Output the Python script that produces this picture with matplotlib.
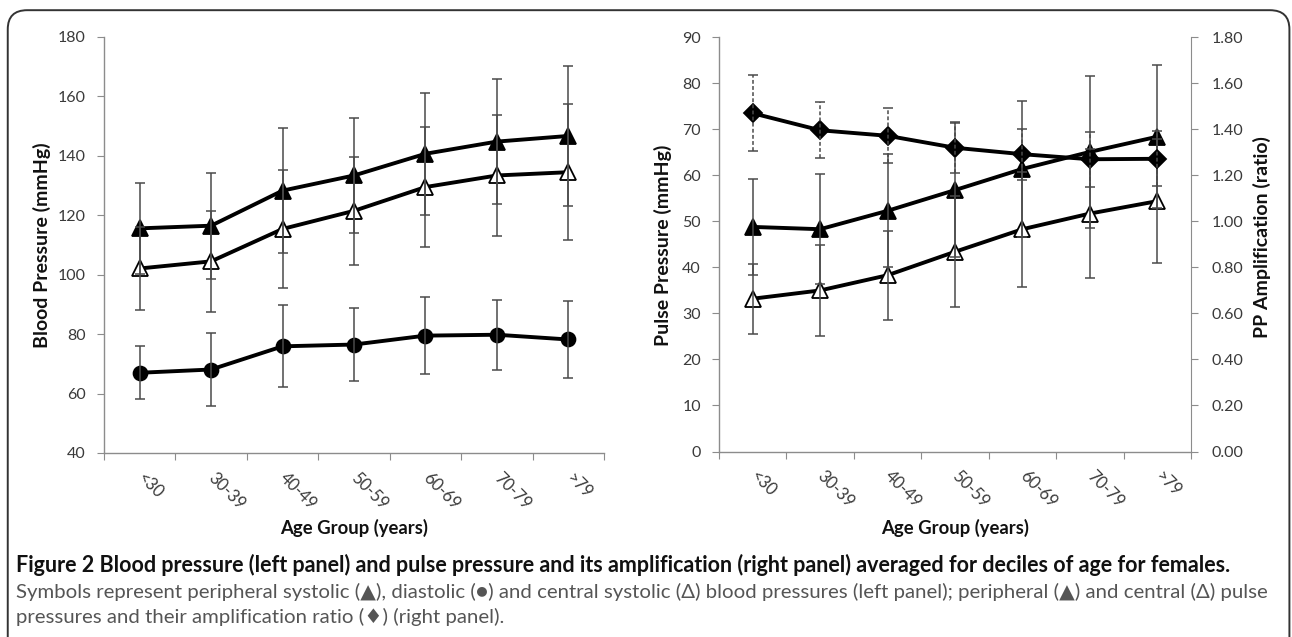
import numpy as np
import matplotlib.pyplot as plt
from matplotlib.patches import FancyBboxPatch

ages = ['<30', '30-39', '40-49', '50-59', '60-69', '70-79', '>79']

# left panel, blood pressures (mmHg), mean and SD
periph_sys = [115.6, 116.5, 128.3, 133.4, 140.7, 144.8, 146.7]
periph_sys_sd = [15.3, 17.8, 21.0, 19.3, 20.5, 21.0, 23.6]
diastolic = [67.0, 68.1, 75.9, 76.5, 79.5, 79.8, 78.2]
diastolic_sd = [8.9, 12.3, 13.8, 12.2, 12.9, 11.7, 12.8]
central_sys = [102.1, 104.5, 115.4, 121.5, 129.5, 133.4, 134.5]
central_sys_sd = [13.9, 17.0, 20.0, 18.2, 20.2, 20.3, 22.8]

# right panel, pulse pressures (mmHg) and amplification ratio
periph_pp = [48.8, 48.3, 52.3, 56.8, 61.4, 65.1, 68.4]
periph_pp_sd = [10.4, 12.0, 12.3, 14.6, 14.8, 16.5, 15.5]
central_pp = [33.2, 35.0, 38.3, 43.4, 48.3, 51.7, 54.4]
central_pp_sd = [7.6, 9.8, 9.7, 12.1, 12.5, 14.0, 13.5]
pp_amp = [1.47, 1.396, 1.372, 1.32, 1.292, 1.27, 1.272]
pp_amp_sd = [0.164, 0.122, 0.12, 0.11, 0.11, 0.12, 0.12]

caption_title = ('Figure 2 Blood pressure (left panel) and pulse pressure and its amplification '
                 '(right panel) averaged for deciles of age for females.')
caption_lines = ['Symbols represent peripheral systolic (\u25b2), diastolic (\u25cf) and central '
                 'systolic (\u0394) blood pressures (left panel); peripheral (\u25b2) and central '
                 '(\u0394) pulse',
                 'pressures and their amplification ratio (\u2666) (right panel).']

W, H = 1292, 637
FONT = ['Lato', 'DejaVu Sans']
AXIS_GRAY = '#8c8c8c'
TEXT_GRAY = '#3a3a3a'
ERR_GRAY = '#4a4a4a'

fig = plt.figure(figsize=(W / 100, H / 100), dpi=100)


def px(xp, yp):
    # pixel position (from top-left) -> figure fraction
    return xp / W, 1 - yp / H


# rounded frame around the figure
frame = FancyBboxPatch((0.006, -0.05), 0.992, 1.034,
                       boxstyle='round,pad=0,rounding_size=0.015',
                       transform=fig.transFigure, fill=False,
                       edgecolor='#333333', linewidth=1.4, mutation_aspect=2)
fig.patches.append(frame)

x = np.arange(len(ages))


def style_axis(ax):
    for side in ['top', 'right']:
        ax.spines[side].set_visible(False)
    for side in ['left', 'bottom']:
        ax.spines[side].set_color(AXIS_GRAY)
        ax.spines[side].set_linewidth(1.0)
    ax.set_xlim(-0.5, len(ages) - 0.5)
    # category boundaries carry the tick marks, labels sit in between
    ax.set_xticks(np.arange(-0.5, len(ages), 1.0))
    ax.set_xticklabels([])
    ax.set_xticks(x, ages, minor=True)
    ax.tick_params(axis='x', which='major', length=5, color=AXIS_GRAY, direction='out')
    ax.tick_params(axis='x', which='minor', length=0, pad=16)
    for lbl in ax.get_xticklabels(minor=True):
        lbl.set_rotation(-45)
        lbl.set_ha('left')
        lbl.set_va('center')
        lbl.set_rotation_mode('anchor')
        lbl.set_fontfamily(FONT)
        lbl.set_fontsize(12)
        lbl.set_color(TEXT_GRAY)
    ax.tick_params(axis='y', length=5, color=AXIS_GRAY, direction='out', pad=8,
                   labelsize=11.5, labelcolor=TEXT_GRAY)
    for lbl in ax.get_yticklabels():
        lbl.set_fontfamily(FONT)


def draw_series(ax, y, err, marker, face, ms, ls='-'):
    ax.plot(x, y, color='black', linewidth=2.8, marker=marker, markersize=ms,
            markerfacecolor=face, markeredgecolor='black', markeredgewidth=1.3,
            zorder=3)
    eb = ax.errorbar(x, y, yerr=err, fmt='none', ecolor=ERR_GRAY, elinewidth=1.1,
                     capsize=3.5, capthick=1.1, zorder=4)
    if ls != '-':
        eb[2][0].set_linestyle(ls)


def label(xp, yp, text, rot=0):
    fig.text(*px(xp, yp), text, rotation=rot, ha='center', va='center',
             family=FONT, fontsize=14 if rot else 13.3, fontweight='bold',
             color='#111111')


# left panel
ax1 = fig.add_axes([104 / W, 1 - 453 / H, 500 / W, 416 / H])
draw_series(ax1, periph_sys, periph_sys_sd, '^', 'black', 11)
draw_series(ax1, central_sys, central_sys_sd, '^', 'white', 11)
draw_series(ax1, diastolic, diastolic_sd, 'o', 'black', 10)
ax1.set_ylim(40, 180)
ax1.set_yticks(np.arange(40, 181, 20))
style_axis(ax1)
label(42, 245, 'Blood Pressure (mmHg)', 90)
label(354, 528, 'Age Group (years)')

# right panel
ax2 = fig.add_axes([719 / W, 1 - 451.5 / H, 472 / W, 414.2 / H])
ax3 = ax2.twinx()
draw_series(ax2, periph_pp, periph_pp_sd, '^', 'black', 11)
draw_series(ax2, central_pp, central_pp_sd, '^', 'white', 11)
draw_series(ax3, pp_amp, pp_amp_sd, 'D', 'black', 9.5, ls=(0, (2.5, 1.5)))
ax2.set_ylim(0, 90)
ax2.set_yticks(np.arange(0, 91, 10))
ax3.set_ylim(0, 1.8)
ax3.set_yticks(np.arange(0, 1.81, 0.2))
ax3.set_yticklabels(['%.2f' % v for v in np.arange(0, 1.81, 0.2)])
style_axis(ax2)
for side in ['top', 'left', 'bottom']:
    ax3.spines[side].set_visible(False)
ax3.spines['right'].set_color(AXIS_GRAY)
ax3.tick_params(axis='y', length=5, color=AXIS_GRAY, direction='out', pad=10,
                labelsize=11.5, labelcolor=TEXT_GRAY)
for lbl in ax3.get_yticklabels():
    lbl.set_fontfamily(FONT)
label(663, 245, 'Pulse Pressure (mmHg)', 90)
label(1262, 237, 'PP Amplification (ratio)', 90)
label(955, 528, 'Age Group (years)')

# caption, each line sized to the width it takes in the figure
renderer = fig.canvas.get_renderer()


def caption(text, yp, target_w, size, **kw):
    t = fig.text(*px(16, yp), text, family=FONT, fontsize=size,
                 va='center', ha='left', **kw)
    w = t.get_window_extent(renderer).width
    t.set_fontsize(size * target_w / w)
    return t


caption(caption_title, 565, 1218, 13, fontweight='bold', color='#111111')
caption(caption_lines[0], 592, 1244, 12, color='#555555')
t3 = caption(caption_lines[1], 617, 100, 12, color='#555555')
t3.set_fontsize(fig.texts[-2].get_fontsize())

fig.savefig('out.png', dpi=100)
